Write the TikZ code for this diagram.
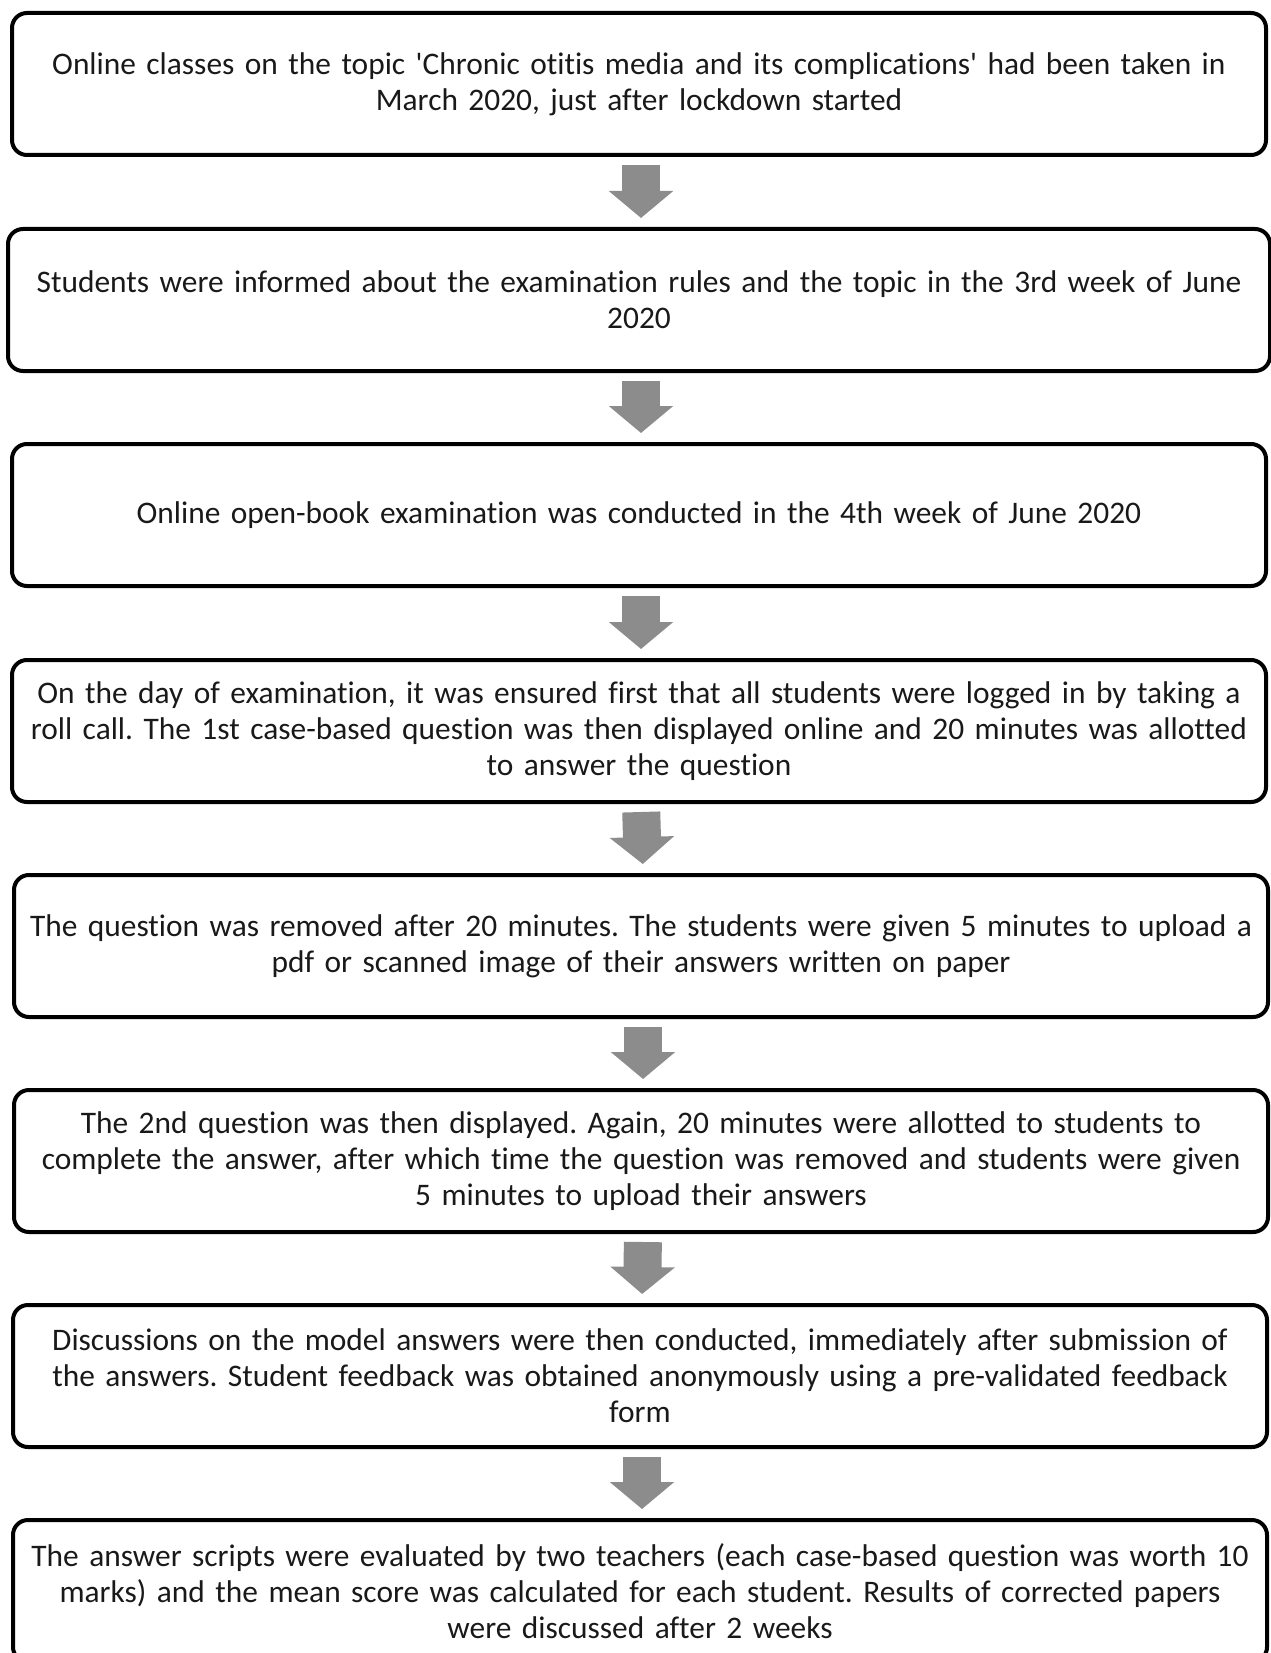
\documentclass[tikz,border=0pt]{standalone}
\usepackage{fontspec}
\setmainfont{Carlito}[Ligatures={TeXOff,NoCommon}]
\usetikzlibrary{arrows.meta}

\definecolor{arrowgray}{RGB}{140,140,140}
\definecolor{textgray}{RGB}{25,25,25}

\tikzset{
  stepbox/.style={draw=black,line width=2pt,rounded corners=7.5pt,
    minimum width=627pt,minimum height=71pt,text width=625pt,inner xsep=1pt,
    align=center,text=textgray,font=\fontsize{15.7}{18}\selectfont\frenchspacing},
  blockarrow/.style={draw=arrowgray,line width=19pt,
    -{Triangle[length=13.5pt,width=31.5pt]},shorten <=4pt,shorten >=4.5pt}
}

\begin{document}
\begin{tikzpicture}[x=0.5pt,y=-0.5pt]
  \useasboundingbox (0,0) rectangle (1270,1653);
  \node[stepbox] (s1) at (639,84) {Online classes on the topic 'Chronic otitis media and its complications' had been taken in\\ March 2020, just after lockdown started};
  \node[stepbox,minimum width=631pt] (s2) at (639,300) {Students were informed about the examination rules and the topic in the 3rd week of June\\ 2020};
  \node[stepbox] (s3) at (639,515) {Online open-book examination was conducted in the 4th week of June 2020};
  \node[stepbox] (s4) at (639,731) {On the day of examination, it was ensured first that all students were logged in by taking a\\ roll call. The 1st case-based question was then displayed online and 20 minutes was allotted\\ to answer the question};
  \node[stepbox,minimum width=625pt] (s5) at (641,946) {The question was removed after 20 minutes. The students were given 5 minutes to upload a\\ pdf or scanned image of their answers written on paper};
  \node[stepbox,minimum width=625pt] (s6) at (641,1161) {The 2nd question was then displayed. Again, 20 minutes were allotted to students to\\ complete the answer, after which time the question was removed and students were given\\ 5 minutes to upload their answers};
  \node[stepbox] (s7) at (640,1376) {Discussions on the model answers were then conducted, immediately after submission of\\ the answers. Student feedback was obtained anonymously using a pre-validated feedback\\ form};
  \node[stepbox] (s8) at (640,1591) {The answer scripts were evaluated by two teachers (each case-based question was worth 10\\ marks) and the mean score was calculated for each student. Results of corrected papers\\ were discussed after 2 weeks};
  % gray block arrows between the steps
  \foreach \a/\b in {s1/s2,s2/s3,s3/s4,s4/s5,s5/s6,s6/s7,s7/s8}
    \draw[blockarrow] ([xshift=1pt]\a.south) -- ([xshift=1pt]\b.north);
\end{tikzpicture}
\end{document}
